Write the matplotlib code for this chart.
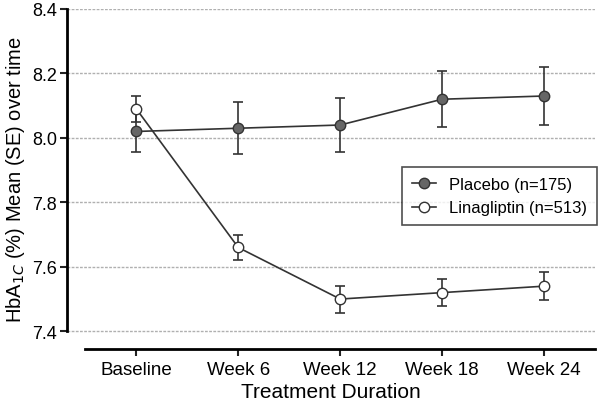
import numpy as np
from matplotlib import pyplot as plt
from matplotlib.lines import Line2D

plt.rcParams['font.family'] = ['Liberation Sans', 'DejaVu Sans']

# data
labels = ['Baseline', 'Week 6', 'Week 12', 'Week 18', 'Week 24']
placebo = [8.02, 8.03, 8.04, 8.12, 8.13]
placebo_se = [0.065, 0.08, 0.085, 0.087, 0.09]
lina = [8.09, 7.66, 7.50, 7.52, 7.54]
lina_se = [0.04, 0.04, 0.042, 0.042, 0.044]

x = np.arange(len(labels))

fig = plt.figure(figsize=(6, 4.06), dpi=100)
ax = fig.add_axes([0.1117, 0.1379, 0.88, 0.8375])

# grid lines
for yv in [7.4, 7.6, 7.8, 8.0, 8.2, 8.4]:
    ax.axhline(yv, color='#b0b0b0', lw=1.0, ls=(0, (2, 1)), zorder=0)

style = dict(fmt='-o', color='#333333', mec='#333333', ms=7.5, lw=1.2,
             capsize=3.5, elinewidth=1.2, capthick=1.2, zorder=3)
ax.errorbar(x, placebo, yerr=placebo_se, mfc='#666666', **style)
ax.errorbar(x, lina, yerr=lina_se, mfc='white', **style)

ax.set_xlim(-0.68, 4.5)
ax.set_ylim(7.345, 8.4)
ax.set_yticks([7.4, 7.6, 7.8, 8.0, 8.2, 8.4])
ax.set_yticklabels(['7.4', '7.6', '7.8', '8.0', '8.2', '8.4'], fontsize=13)
ax.set_xticks(x)
ax.set_xticklabels(labels, fontsize=13.5)

ax.spines['top'].set_visible(False)
ax.spines['right'].set_visible(False)
ax.spines['left'].set_bounds(7.4, 8.4)
ax.spines['bottom'].set_bounds(-0.5, 4.5)
ax.spines['left'].set_linewidth(2)
ax.spines['bottom'].set_linewidth(2)
ax.tick_params(axis='both', width=1.5, length=5, color='#222222')
ax.tick_params(axis='y', pad=2)

ax.set_xlabel('Treatment Duration', fontsize=15, labelpad=3)
ax.set_ylabel('HbA$_{1C}$ (%) Mean (SE) over time', fontsize=14.5)

handles = [
    Line2D([], [], marker='o', color='#333333', mfc='#666666', mec='#333333', ms=7.5, lw=1.2),
    Line2D([], [], marker='o', color='#333333', mfc='white', mec='#333333', ms=7.5, lw=1.2),
]
leg = ax.legend(handles, ['Placebo (n=175)', 'Linagliptin (n=513)'],
                loc='upper right', bbox_to_anchor=(1.004, 0.535), fontsize=12,
                frameon=True, fancybox=False, edgecolor='#222222',
                handlelength=1.4, handletextpad=0.8, borderpad=0.6,
                labelspacing=0.5, borderaxespad=0)
leg.get_frame().set_linewidth(1.2)

fig.savefig('out.png', dpi=100)
